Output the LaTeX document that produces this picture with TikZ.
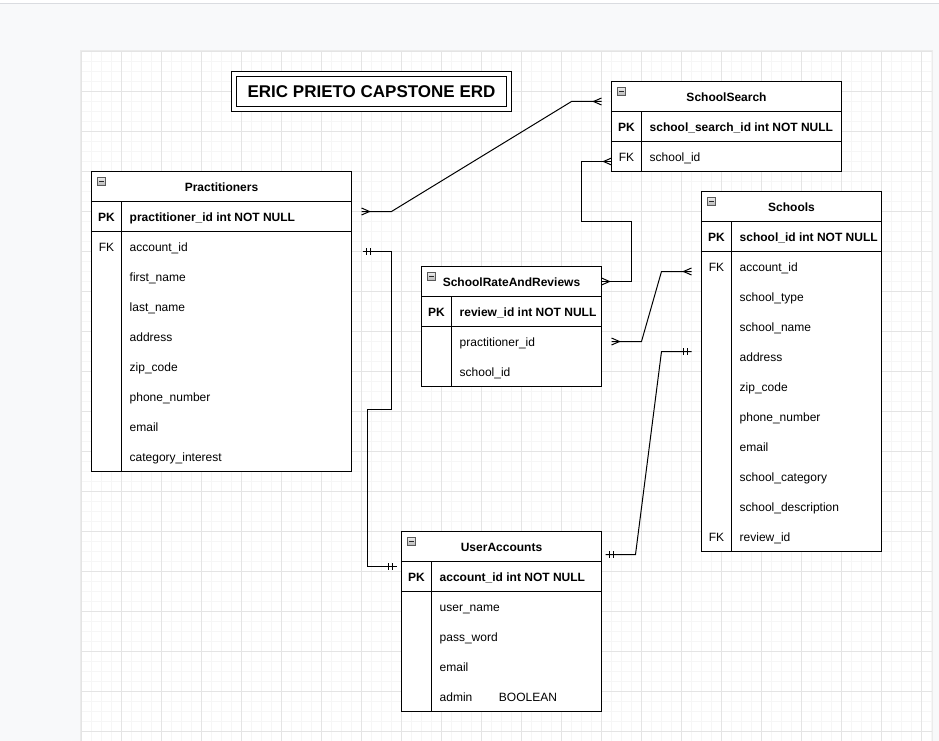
\documentclass[tikz,border=0pt]{standalone}
\usepackage{fontspec}
\setmainfont{Liberation Sans}
\usepackage{tikz}
\usetikzlibrary{positioning}
\definecolor{canvasGray}{HTML}{F8F9FA}
\definecolor{gridMinor}{HTML}{F6F6F6}
\definecolor{gridMajor}{HTML}{E4E4E4}
\definecolor{topRule}{HTML}{DADCE0}
\newcommand{\erdfont}{\fontsize{12}{14}\selectfont}

\begin{document}
\begin{tikzpicture}[x = 1pt, y = -1pt,
                    keyBox/.style = {draw = black, line width = 1pt, rectangle, fill = white, minimum width = 30pt, minimum height = 30pt,
                                     inner sep = 0pt, outer sep = 0pt, anchor = north west, font = \erdfont, text height = 10pt, text depth = 0pt},
                    tableHead/.style = {keyBox, font = \erdfont\bfseries},
                    fieldText/.style = {anchor = west, inner sep = 0pt, font = \erdfont, text height = 10pt, text depth = 0pt},
                    pkText/.style = {fieldText, font = \erdfont\bfseries},
                    keyText/.style = {inner sep = 0pt, font = \erdfont, text height = 10pt, text depth = 0pt},
                    collapseIcon/.style = {draw = gray!70!black, line width = 0.8pt, top color = gray!15, bottom color = gray!55,
                                           minimum size = 7.5pt, inner sep = 0pt, outer sep = 0pt, anchor = north west,
                                           path picture = {\draw [line width = 1pt, black!85] ([xshift = 1.5pt] path picture bounding box.west)
                                                                                          -- ([xshift = -1.5pt] path picture bounding box.east);}},
                    titleBox/.style = {draw = black, line width = 1pt, double = white, double distance = 4pt, fill = white,
                                       minimum width = 275pt, minimum height = 35pt, inner sep = 0pt, font = \fontsize{17}{20}\selectfont\bfseries},
                    relLine/.style = {draw = black, line width = 1pt},
                    manyEnd/.pic = {\draw [relLine] (0,-3.5) -- (8,0) -- (0,3.5);},
                    oneEnd/.pic = {\draw [relLine] (4,-3.5) -- (4,3.5) (8,-3.5) -- (8,3.5);}]
    \useasboundingbox (0,0) rectangle (939,741);
    \begin{scope}[shift = {(0.5,0.5)}]
    % page and grid
    \fill [white] (-1,-1) rectangle (940,3);
    \fill [canvasGray] (-1,3) rectangle (940,742);
    \draw [topRule, line width = 1pt] (-1,3) -- (940,3);
    \fill [black!8] (79.5,49.5) rectangle (932.5,742);
    \fill [white] (81,51) rectangle (931,742);
    \foreach \gx in {81,91,...,931} \draw [gridMinor, line width = 1pt] (\gx,51) -- (\gx,741);
    \foreach \gy in {51,61,...,741} \draw [gridMinor, line width = 1pt] (81,\gy) -- (931,\gy);
    \foreach \gx in {81,121,...,921} \draw [gridMajor, line width = 1pt] (\gx,51) -- (\gx,741);
    \foreach \gy in {51,91,...,731} \draw [gridMajor, line width = 1pt] (81,\gy) -- (931,\gy);

    \node [titleBox] (erdTitle) at (371,91) {ERIC PRIETO CAPSTONE ERD};

    % SchoolSearch
    \node [tableHead, minimum width = 230pt] (searchHead) at (611,81) {SchoolSearch};
    \node [collapseIcon] (searchIcon) at ([shift = {(6pt,-6pt)}] searchHead.north west) {};
    \node [keyBox] (searchPKKey) at (searchHead.south west) {\bfseries PK};
    \node [keyBox, minimum width = 200pt, right = 0pt of searchPKKey] (searchPKField) {};
    \node [keyBox] (searchKeys) at (searchPKKey.south west) {FK};
    \node [keyBox, minimum width = 200pt, right = 0pt of searchKeys] (searchFields) {};
    \node [pkText] (searchPK) at (649,126) {school\_search\_id int NOT NULL};
    \node [fieldText] (searchSchool) at (649,156) {school\_id};

    % Practitioners
    \node [tableHead, minimum width = 260pt] (practHead) at (91,171) {Practitioners};
    \node [collapseIcon] (practIcon) at ([shift = {(6pt,-6pt)}] practHead.north west) {};
    \node [keyBox] (practPKKey) at (practHead.south west) {\bfseries PK};
    \node [keyBox, minimum width = 230pt, right = 0pt of practPKKey] (practPKField) {};
    \node [keyBox, minimum height = 240pt] (practKeys) at (practPKKey.south west) {};
    \node [keyBox, minimum width = 230pt, minimum height = 240pt, right = 0pt of practKeys] (practFields) {};
    \node [pkText] (practPK) at (129,216) {practitioner\_id int NOT NULL};
    \node [keyText] (practAccountFK) at (106,246) {FK};
    \node [fieldText] (practAccount) at (129,246) {account\_id};
    \node [fieldText] (practFirst) at (129,276) {first\_name};
    \node [fieldText] (practLast) at (129,306) {last\_name};
    \node [fieldText] (practAddress) at (129,336) {address};
    \node [fieldText] (practZip) at (129,366) {zip\_code};
    \node [fieldText] (practPhone) at (129,396) {phone\_number};
    \node [fieldText] (practEmail) at (129,426) {email};
    \node [fieldText] (practCategory) at (129,456) {category\_interest};

    % Schools
    \node [tableHead, minimum width = 180pt] (schoolHead) at (701,191) {Schools};
    \node [collapseIcon] (schoolIcon) at ([shift = {(6pt,-6pt)}] schoolHead.north west) {};
    \node [keyBox] (schoolPKKey) at (schoolHead.south west) {\bfseries PK};
    \node [keyBox, minimum width = 150pt, right = 0pt of schoolPKKey] (schoolPKField) {};
    \node [keyBox, minimum height = 300pt] (schoolKeys) at (schoolPKKey.south west) {};
    \node [keyBox, minimum width = 150pt, minimum height = 300pt, right = 0pt of schoolKeys] (schoolFields) {};
    \node [pkText] (schoolPK) at (739,236) {school\_id int NOT NULL};
    \node [keyText] (schoolAccountFK) at (716,266) {FK};
    \node [fieldText] (schoolAccount) at (739,266) {account\_id};
    \node [fieldText] (schoolType) at (739,296) {school\_type};
    \node [fieldText] (schoolName) at (739,326) {school\_name};
    \node [fieldText] (schoolAddress) at (739,356) {address};
    \node [fieldText] (schoolZip) at (739,386) {zip\_code};
    \node [fieldText] (schoolPhone) at (739,416) {phone\_number};
    \node [fieldText] (schoolEmail) at (739,446) {email};
    \node [fieldText] (schoolCategory) at (739,476) {school\_category};
    \node [fieldText] (schoolDescription) at (739,506) {school\_description};
    \node [keyText] (schoolReviewFK) at (716,536) {FK};
    \node [fieldText] (schoolReview) at (739,536) {review\_id};

    % SchoolRateAndReviews
    \node [tableHead, minimum width = 180pt] (rateHead) at (421,266) {SchoolRateAndReviews};
    \node [collapseIcon] (rateIcon) at ([shift = {(6pt,-6pt)}] rateHead.north west) {};
    \node [keyBox] (ratePKKey) at (rateHead.south west) {\bfseries PK};
    \node [keyBox, minimum width = 150pt, right = 0pt of ratePKKey] (ratePKField) {};
    \node [keyBox, minimum height = 60pt] (rateKeys) at (ratePKKey.south west) {};
    \node [keyBox, minimum width = 150pt, minimum height = 60pt, right = 0pt of rateKeys] (rateFields) {};
    \node [pkText] (ratePK) at (459,311) {review\_id int NOT NULL};
    \node [fieldText] (ratePractitioner) at (459,341) {practitioner\_id};
    \node [fieldText] (rateSchool) at (459,371) {school\_id};

    % UserAccounts
    \node [tableHead, minimum width = 200pt] (userHead) at (401,531) {UserAccounts};
    \node [collapseIcon] (userIcon) at ([shift = {(6pt,-6pt)}] userHead.north west) {};
    \node [keyBox] (userPKKey) at (userHead.south west) {\bfseries PK};
    \node [keyBox, minimum width = 170pt, right = 0pt of userPKKey] (userPKField) {};
    \node [keyBox, minimum height = 120pt] (userKeys) at (userPKKey.south west) {};
    \node [keyBox, minimum width = 170pt, minimum height = 120pt, right = 0pt of userKeys] (userFields) {};
    \node [pkText] (userPK) at (439,576) {account\_id int NOT NULL};
    \node [fieldText] (userName) at (439,606) {user\_name};
    \node [fieldText] (userPass) at (439,636) {pass\_word};
    \node [fieldText] (userEmail) at (439,666) {email};
    \node [fieldText] (userAdmin) at (439,696) {admin\hspace{26.6pt}BOOLEAN};

    % relations
    \coordinate (practPKEnd) at (361,211);
    \coordinate (searchHeadEnd) at (601,101);
    \coordinate (searchFKEnd) at (611,161);
    \coordinate (rateHeadEnd) at (601,281);
    \coordinate (ratePractEnd) at (611,341);
    \coordinate (schoolAccEnd) at (691,271);
    \coordinate (schoolAddrEnd) at (691,351);
    \coordinate (userHeadEnd) at (605,554);
    \coordinate (practAccEnd) at (362,251);
    \coordinate (userPKEnd) at (396,566);

    \draw [relLine] (practPKEnd) -- ++(30,0) -- ++(180,-110) -- (searchHeadEnd);
    \draw [relLine] (searchFKEnd) -- ++(-30,0) |- (631,221) |- (rateHeadEnd);
    \draw [relLine] (ratePractEnd) -- ++(30,0) -- ++(20,-70) -- (schoolAccEnd);
    \draw [relLine] (schoolAddrEnd) -- ++(-30,0) -- ++(-26,203) -- (userHeadEnd);
    \draw [relLine] (practAccEnd) -- ++(29,0) |- (367,409) |- (userPKEnd);

    \pic at (practPKEnd) {manyEnd};
    \pic [xscale = -1] at (searchHeadEnd) {manyEnd};
    \pic [xscale = -1] at (searchFKEnd) {manyEnd};
    \pic at (rateHeadEnd) {manyEnd};
    \pic at (ratePractEnd) {manyEnd};
    \pic [xscale = -1] at (schoolAccEnd) {manyEnd};
    \pic [xscale = -1] at (schoolAddrEnd) {oneEnd};
    \pic at (userHeadEnd) {oneEnd};
    \pic at (practAccEnd) {oneEnd};
    \pic [xscale = -1] at (userPKEnd) {oneEnd};
    \end{scope}
\end{tikzpicture}
\end{document}
